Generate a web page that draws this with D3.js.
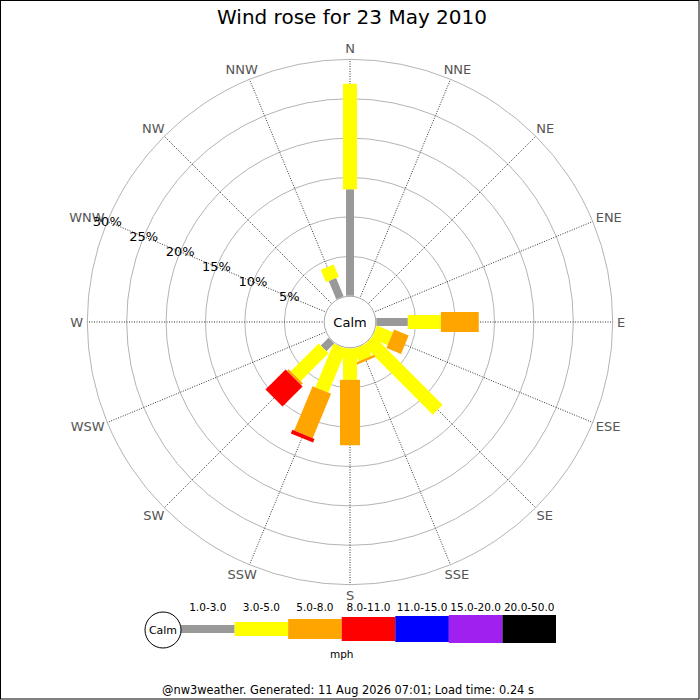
<!DOCTYPE html>
<html>
<head>
<meta charset="utf-8">
<script src="https://cdn.jsdelivr.net/npm/d3@7"></script>
<style>
  body { margin: 0; background: #fff; }
  text { font-family: 'DejaVu Sans', sans-serif; }
</style>
</head>
<body>
<div id="chart"></div>
<script>
// wind directions, clockwise from north
const directions = ['N', 'NNE', 'NE', 'ENE', 'E', 'ESE', 'SE', 'SSE',
  'S', 'SSW', 'SW', 'WSW', 'W', 'WNW', 'NW', 'NNW']

// speed bands (mph)
const bands = ['1.0-3.0', '3.0-5.0', '5.0-8.0', '8.0-11.0', '11.0-15.0', '15.0-20.0', '20.0-50.0']

// % of time per direction, one array per band
const speed1to3 = [13.5, 0, 0, 0, 4.0, 0, 0, 0, 0, 0, 1.4, 0, 0, 0, 0, 2.5]
const speed3to5 = [13.4, 0, 0, 0, 4.2, 2.2, 12.4, 1.7, 4.0, 6.0, 5.0, 0, 0, 0, 0, 1.7]
const speed5to8 = [0, 0, 0, 0, 4.8, 2.0, 0, 0.3, 8.3, 6.1, 0.3, 0, 0, 0, 0, 0]
const speed8to11 = [0, 0, 0, 0, 0, 0, 0, 0, 0, 0.5, 3.6, 0, 0, 0, 0, 0]
const speed11to15 = [0, 0, 0, 0, 0, 0, 0, 0, 0, 0, 0, 0, 0, 0, 0, 0]
const speed15to20 = [0, 0, 0, 0, 0, 0, 0, 0, 0, 0, 0, 0, 0, 0, 0, 0]
const speed20to50 = [0, 0, 0, 0, 0, 0, 0, 0, 0, 0, 0, 0, 0, 0, 0, 0]

const pctTicks = [5, 10, 15, 20, 25, 30]

const bandValues = [speed1to3, speed3to5, speed5to8, speed8to11, speed11to15, speed15to20, speed20to50]
const colors = ['#999999', '#ffff00', '#ffa500', '#ff0000', '#0000ff', '#a020f0', '#000000']
const barWidths = [8, 14, 20, 24, 26, 28, 28]

const width = 700
const height = 700
const cx = 350
const cy = 322
const calmR = 26.3
const outerR = 262.7

const table = directions.map((d, i) => {
  const row = { dir: d }
  bands.forEach((b, j) => { row[b] = bandValues[j][i] })
  return row
})
const stacked = d3.stack().keys(bands)(table)

const rScale = d3.scaleLinear()
  .domain([0, 30])
  .range([calmR, outerR])

const angle = d3.scaleBand()
  .domain(directions)
  .range([0, 360])

const color = d3.scaleOrdinal().domain(bands).range(colors)
const barWidth = d3.scaleOrdinal().domain(bands).range(barWidths)

const svg = d3.select('#chart')
  .append('svg')
  .attr('width', width)
  .attr('height', height)

svg.append('rect')
  .attr('x', 0.5)
  .attr('y', 0.5)
  .attr('width', width - 1.5)
  .attr('height', height - 1.5)
  .attr('fill', '#fff')
  .attr('stroke', '#000')

svg.append('text')
  .attr('x', 352)
  .attr('y', 24)
  .attr('text-anchor', 'middle')
  .attr('font-size', 20)
  .attr('fill', '#000')
  .text('Wind rose for 23 May 2010')

const rose = svg.append('g')
  .attr('transform', `translate(${cx}, ${cy})`)

// rings
rose.selectAll('.ring')
  .data(pctTicks)
  .enter()
  .append('circle')
  .attr('class', 'ring')
  .attr('r', (d) => rScale(d))
  .attr('fill', 'none')
  .attr('stroke', '#b4b4b4')

// spokes
const rad = (d) => (angle(d) - 90) * Math.PI / 180
rose.selectAll('.spoke')
  .data(directions)
  .enter()
  .append('line')
  .attr('class', 'spoke')
  .attr('x1', 0)
  .attr('y1', 0)
  .attr('x2', (d) => outerR * Math.cos(rad(d)))
  .attr('y2', (d) => outerR * Math.sin(rad(d)))
  .attr('stroke', '#333')
  .attr('stroke-dasharray', '1,1.5')

// direction labels, pushed outward by half their box
const labelR = 267
rose.selectAll('.dirlabel')
  .data(directions)
  .enter()
  .append('text')
  .attr('class', 'dirlabel')
  .attr('text-anchor', 'middle')
  .attr('dominant-baseline', 'central')
  .attr('font-size', 13)
  .attr('fill', '#555')
  .text((d) => d)
  .each(function (d) {
    const w = this.getComputedTextLength()
    const ux = Math.cos(rad(d))
    const uy = Math.sin(rad(d))
    d3.select(this)
      .attr('x', labelR * ux + (w / 2) * ux)
      .attr('y', labelR * uy + 6.5 * uy)
  })

// bars
directions.forEach((dir, i) => {
  const g = rose.append('g')
    .attr('transform', `rotate(${angle(dir)})`)
  stacked.forEach((s) => {
    const [y0, y1] = s[i]
    if (y1 - y0 <= 0) return
    const w = barWidth(s.key)
    g.append('rect')
      .attr('x', -w / 2)
      .attr('width', w)
      .attr('y', -rScale(y1))
      .attr('height', rScale(y1) - rScale(y0))
      .attr('fill', color(s.key))
  })
})

// percent labels along WNW
const wnw = rad('WNW')
rose.selectAll('.pct')
  .data(pctTicks)
  .enter()
  .append('text')
  .attr('class', 'pct')
  .attr('x', (d) => rScale(d) * Math.cos(wnw))
  .attr('y', (d) => rScale(d) * Math.sin(wnw))
  .attr('text-anchor', 'middle')
  .attr('dominant-baseline', 'central')
  .attr('font-size', 13)
  .attr('fill', '#000')
  .text((d) => `${d}%`)

// calm circle
rose.append('circle')
  .attr('r', calmR - 0.5)
  .attr('fill', '#fff')
  .attr('stroke', '#aaa')

rose.append('text')
  .attr('text-anchor', 'middle')
  .attr('dominant-baseline', 'central')
  .attr('font-size', 13)
  .attr('fill', '#000')
  .text('Calm')

// legend
const legendX = d3.scaleBand()
  .domain(bands)
  .range([181, 556])
const legendY = 629

const legend = svg.append('g')

legend.selectAll('.lbar')
  .data(bands)
  .enter()
  .append('rect')
  .attr('class', 'lbar')
  .attr('x', (d) => legendX(d))
  .attr('width', legendX.bandwidth())
  .attr('y', (d) => legendY - barWidth(d) / 2)
  .attr('height', (d) => barWidth(d))
  .attr('fill', (d) => color(d))

legend.selectAll('.llabel')
  .data(bands)
  .enter()
  .append('text')
  .attr('class', 'llabel')
  .attr('x', (d) => legendX(d) + legendX.bandwidth() / 2)
  .attr('y', 611)
  .attr('text-anchor', 'middle')
  .attr('font-size', 10.5)
  .attr('fill', '#000')
  .text((d) => d)

legend.append('circle')
  .attr('cx', 163)
  .attr('cy', legendY + 1)
  .attr('r', 18)
  .attr('fill', '#fff')
  .attr('stroke', '#000')

legend.append('text')
  .attr('x', 163)
  .attr('y', legendY + 1)
  .attr('text-anchor', 'middle')
  .attr('dominant-baseline', 'central')
  .attr('font-size', 11)
  .attr('fill', '#000')
  .text('Calm')

legend.append('text')
  .attr('x', legendX('8.0-11.0'))
  .attr('y', 658)
  .attr('text-anchor', 'middle')
  .attr('font-size', 10.5)
  .attr('fill', '#000')
  .text('mph')

svg.append('text')
  .attr('x', 348)
  .attr('y', 694)
  .attr('text-anchor', 'middle')
  .attr('font-size', 11.4)
  .attr('fill', '#000')
  .text('@nw3weather. Generated: 11 Aug 2026 07:01; Load time: 0.24 s')
</script>
</body>
</html>
